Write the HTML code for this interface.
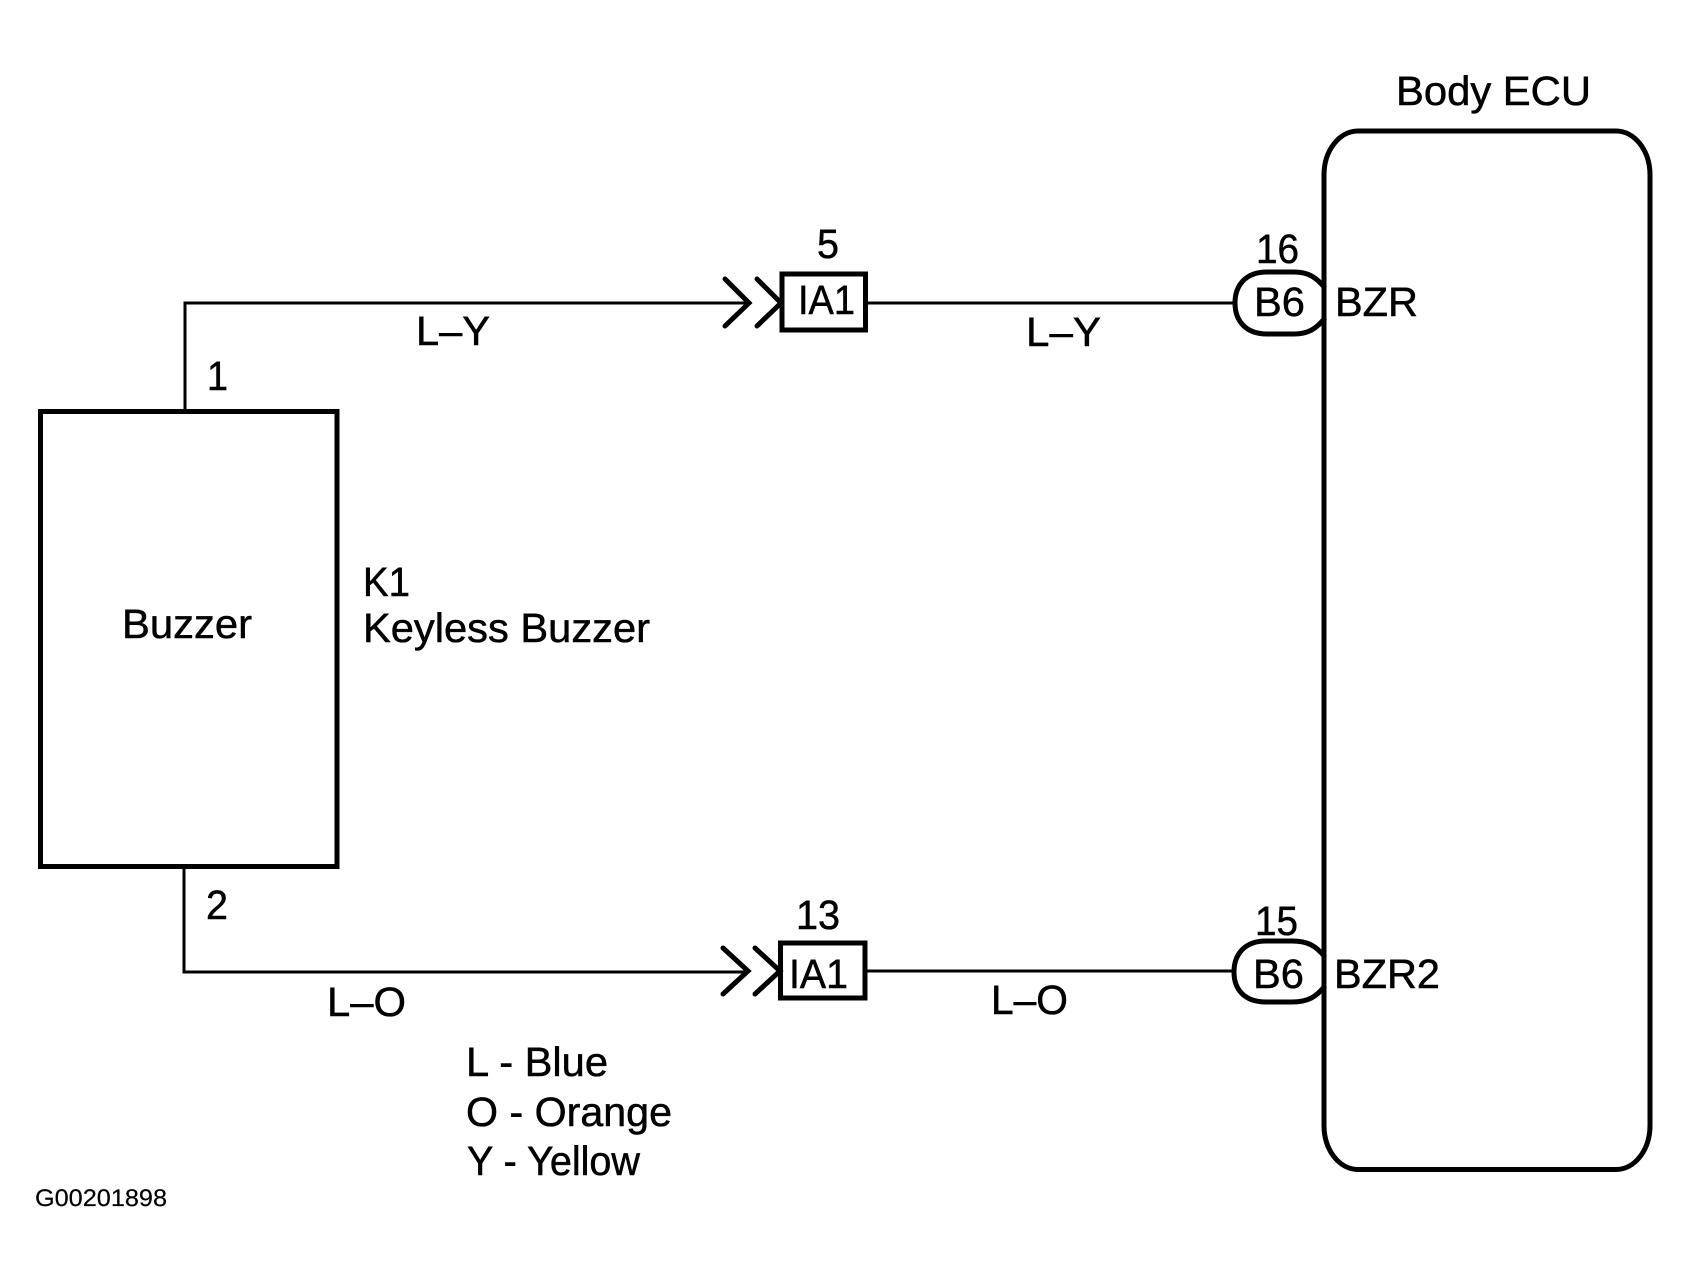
<!DOCTYPE html>
<html>
<head>
<meta charset="utf-8">
<style>
html,body{margin:0;padding:0;background:#fff;width:1690px;height:1281px;overflow:hidden}
svg{display:block}
text{font-family:"Liberation Sans",Arial,sans-serif;font-size:41px;fill:#000;stroke:#000;stroke-width:.5;text-rendering:geometricPrecision}
.s{fill:none;stroke:#000;stroke-linejoin:miter}
.c{fill:none;stroke:#000;stroke-linejoin:miter;stroke-linecap:round}
</style>
</head>
<body>
<svg width="1690" height="1281" viewBox="0 0 1690 1281" xmlns="http://www.w3.org/2000/svg">
<rect width="1690" height="1281" fill="#fff"/>

<!-- Buzzer -->
<rect class="s" x="40.500" y="411.500" width="296.500" height="455" stroke-width="5"/>
<!-- wires -->
<path class="s" d="M185 411V303H748" stroke-width="3"/>
<path class="s" d="M184 866V972H748" stroke-width="3"/>
<path class="s" d="M867 303H1235" stroke-width="3"/>
<path class="s" d="M867 971H1233" stroke-width="3"/>

<!-- chevrons -->
<path class="c" d="M725 279L749 303L725 326" stroke-width="5"/>
<path class="c" d="M757 279L781 303L757 326" stroke-width="5"/>
<path class="c" d="M723 948L748 971L723 994" stroke-width="5"/>
<path class="c" d="M755 948L780 971L755 994" stroke-width="5"/>

<!-- IA1 boxes -->
<rect class="s" x="782" y="274" width="83.500" height="56" stroke-width="5" fill="#fff"/>
<rect class="s" x="780.500" y="943" width="84.500" height="55" stroke-width="5" fill="#fff"/>

<!-- Body ECU -->
<rect class="s" x="1324" y="131" width="326" height="1038.500" rx="34" ry="44" stroke-width="5"/>

<!-- B6 connectors -->
<path class="s" d="M1325 288C1316 277 1308 272 1294 272H1267C1245 272 1235 286 1235 303C1235 320 1245 334 1267 334H1294C1308 334 1316 329 1325 318" stroke-width="5"/>
<path class="s" d="M1325 957C1316 946 1308 941 1292 941H1266C1244 941 1234 955 1234 972C1234 989 1244 1002 1266 1002H1292C1308 1002 1316 997 1325 986" stroke-width="5"/>

<!-- labels -->
<text x="1396" y="105" textLength="195" lengthAdjust="spacingAndGlyphs">Body ECU</text>
<text x="817" y="258" textLength="22" lengthAdjust="spacingAndGlyphs">5</text>
<text x="1256" y="263" textLength="43" lengthAdjust="spacingAndGlyphs">16</text>
<text x="798" y="314" textLength="57" lengthAdjust="spacingAndGlyphs">IA1</text>
<text x="1254" y="316" textLength="51" lengthAdjust="spacingAndGlyphs">B6</text>
<text x="1335" y="316" textLength="83" lengthAdjust="spacingAndGlyphs">BZR</text>
<text x="416" y="345" textLength="74" lengthAdjust="spacingAndGlyphs">L–Y</text>
<text x="1026" y="346" textLength="75" lengthAdjust="spacingAndGlyphs">L–Y</text>
<text x="207" y="390" textLength="21" lengthAdjust="spacingAndGlyphs">1</text>
<text x="363" y="596" textLength="47" lengthAdjust="spacingAndGlyphs">K1</text>
<text x="122" y="638" textLength="130" lengthAdjust="spacingAndGlyphs">Buzzer</text>
<text x="363" y="642" textLength="287" lengthAdjust="spacingAndGlyphs">Keyless Buzzer</text>
<text x="206" y="919" textLength="22" lengthAdjust="spacingAndGlyphs">2</text>
<text x="796" y="929" textLength="44" lengthAdjust="spacingAndGlyphs">13</text>
<text x="1255" y="935" textLength="43" lengthAdjust="spacingAndGlyphs">15</text>
<text x="789" y="988" textLength="59" lengthAdjust="spacingAndGlyphs">IA1</text>
<text x="1253" y="988" textLength="51" lengthAdjust="spacingAndGlyphs">B6</text>
<text x="1334" y="988" textLength="106" lengthAdjust="spacingAndGlyphs">BZR2</text>
<text x="327" y="1016" textLength="79" lengthAdjust="spacingAndGlyphs">L–O</text>
<text x="991" y="1014" textLength="77" lengthAdjust="spacingAndGlyphs">L–O</text>
<text x="466" y="1076" textLength="142" lengthAdjust="spacingAndGlyphs">L - Blue</text>
<text x="466" y="1126" textLength="206" lengthAdjust="spacingAndGlyphs">O - Orange</text>
<text x="467" y="1175" textLength="173" lengthAdjust="spacingAndGlyphs">Y - Yellow</text>
<text x="35" y="1206" textLength="132" lengthAdjust="spacingAndGlyphs" style="font-size:24px;stroke-width:.2">G00201898</text>
</svg>
</body>
</html>
